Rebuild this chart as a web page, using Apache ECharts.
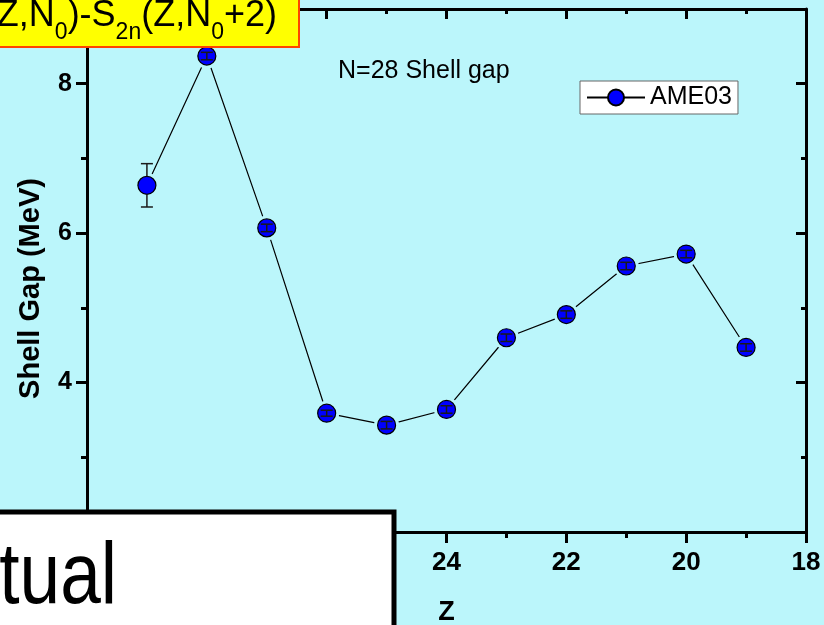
<!DOCTYPE html>
<html>
<head>
<meta charset="utf-8">
<script src="https://cdn.jsdelivr.net/npm/echarts@6/dist/echarts.min.js"></script>
<style>
html,body{margin:0;padding:0;background:#BBF6FB;}
#chart{width:824px;height:625px;}
</style>
</head>
<body>
<div id="chart"></div>
<script>
// ---- data ----
const protonNumbers = [29, 28, 27, 26, 25, 24, 23, 22, 21, 20, 19];
const shellGap = [6.64, 8.37, 6.07, 3.59, 3.43, 3.64, 4.60, 4.91, 5.56, 5.72, 4.47];
const shellGapError = [0.29, 0.05, 0.05, 0.04, 0.05, 0.05, 0.05, 0.05, 0.05, 0.05, 0.05];
const yMajorTicks = [2, 4, 6, 8];
const yMinorTicks = [3, 5, 7];
const seriesName = 'AME03';
const xTitle = 'Z';
const yTitle = 'Shell Gap (MeV)';
const noteText = 'N=28 Shell gap';
const boxText = 'Actual';

const BG = '#BBF6FB';
const FONT = 'Liberation Sans, Arial, sans-serif';

const points = protonNumbers.map((z, i) => [z, shellGap[i]]);
const errPoints = protonNumbers.map((z, i) => [z, shellGap[i], shellGapError[i]]);

const chart = echarts.init(document.getElementById('chart'), null, {renderer: 'canvas'});

const commonY = {type: 'value', min: 2, max: 9, splitLine: {show: false}};
const xCommon = {type: 'value', min: 18, max: 30, interval: 2, inverse: true, splitLine: {show: false}, minorSplitLine: {show: false}};

const option = {
  backgroundColor: BG,
  animation: false,
  grid: {left: 87, right: 18, top: 9, bottom: 93, outerBoundsMode: 'none'},
  legend: {
    data: [seriesName],
    left: 580, top: 81,
    backgroundColor: '#FFFFFF',
    borderColor: '#666666', borderWidth: 1, borderRadius: 0,
    padding: [4, 6, 4, 6],
    itemWidth: 58, itemHeight: 20,
    textStyle: {fontSize: 25, fontFamily: FONT, color: '#000'}
  },
  xAxis: [
    Object.assign({}, xCommon, {
      position: 'bottom',
      axisLine: {show: true, lineStyle: {color: '#000', width: 3}},
      axisTick: {show: true, inside: false, length: 11, lineStyle: {color: '#000', width: 3}},
      minorTick: {show: true, splitNumber: 2, length: 6, lineStyle: {color: '#000', width: 3}},
      axisLabel: {color: '#000', fontSize: 26, fontWeight: 'bold', fontFamily: FONT, margin: 18},
      name: xTitle, nameLocation: 'middle', nameGap: 67,
      nameTextStyle: {color: '#000', fontSize: 27, fontWeight: 'bold', fontFamily: FONT}
    }),
    Object.assign({}, xCommon, {
      position: 'top',
      axisLine: {show: true, lineStyle: {color: '#000', width: 3}},
      axisTick: {show: true, inside: true, length: 10, lineStyle: {color: '#000', width: 3}},
      minorTick: {show: true, splitNumber: 2, length: 5, lineStyle: {color: '#000', width: 3}},
      axisLabel: {show: false}
    })
  ],
  yAxis: [
    Object.assign({}, commonY, {
      position: 'left',
      axisLine: {show: true, lineStyle: {color: '#000', width: 3}},
      axisTick: {show: true, inside: false, length: 11, customValues: yMajorTicks, lineStyle: {color: '#000', width: 3}},
      axisLabel: {color: '#000', fontSize: 25, fontWeight: 'bold', fontFamily: FONT, margin: 15, customValues: yMajorTicks},
      name: yTitle, nameLocation: 'middle', nameGap: 42, nameRotate: 90,
      nameTextStyle: {color: '#000', fontSize: 29, fontWeight: 'bold', fontFamily: FONT, padding: [0, 36, 0, 0]}
    }),
    Object.assign({}, commonY, {
      position: 'left',
      axisLine: {show: false},
      axisTick: {show: true, inside: false, length: 6, customValues: yMinorTicks, lineStyle: {color: '#000', width: 3}},
      axisLabel: {show: false}
    }),
    Object.assign({}, commonY, {
      position: 'right',
      axisLine: {show: true, lineStyle: {color: '#000', width: 3}},
      axisTick: {show: true, inside: true, length: 10, customValues: yMajorTicks, lineStyle: {color: '#000', width: 3}},
      axisLabel: {show: false}
    }),
    Object.assign({}, commonY, {
      position: 'right',
      axisLine: {show: false},
      axisTick: {show: true, inside: true, length: 5, customValues: yMinorTicks, lineStyle: {color: '#000', width: 3}},
      axisLabel: {show: false}
    })
  ],
  series: [
    {
      name: seriesName, type: 'line', data: points, z: 2,
      symbol: 'circle', symbolSize: 17, showSymbol: true,
      itemStyle: {color: '#0000FF', borderColor: '#000', borderWidth: 1},
      lineStyle: {color: '#000', width: 1.2}
    },
    {
      name: 'mask', type: 'scatter', data: points, z: 3, silent: true,
      symbol: 'circle', symbolSize: 25,
      itemStyle: {color: BG, opacity: 1}
    },
    {
      name: 'markers', type: 'scatter', data: points, z: 4, silent: true,
      symbol: 'circle', symbolSize: 18,
      itemStyle: {color: '#0000FF', borderColor: '#000', borderWidth: 1.2, opacity: 1}
    },
    {
      name: 'errors', type: 'custom', data: errPoints, z: 5, silent: true,
      encode: {x: 0, y: 1},
      renderItem: function (params, api) {
        const x = api.value(0), y = api.value(1), e = api.value(2);
        const c = api.coord([x, y]);
        const t = api.coord([x, y + e]);
        const b = api.coord([x, y - e]);
        const r = 9, cap = 6;
        const st = {stroke: '#1a1a1a', lineWidth: 1.5};
        const ch = [];
        const ln = (x1, y1, x2, y2) => ch.push({type: 'line', shape: {x1, y1, x2, y2}, style: st});
        if (c[1] - t[1] > r) {
          ln(c[0], c[1] - r, c[0], t[1]);
          ln(c[0], c[1] + r, c[0], b[1]);
        } else {
          ln(c[0], t[1], c[0], b[1]);
        }
        ln(c[0] - cap, t[1], c[0] + cap, t[1]);
        ln(c[0] - cap, b[1], c[0] + cap, b[1]);
        return {type: 'group', children: ch};
      }
    }
  ],
  graphic: [
    {
      type: 'rect', z: 100,
      shape: {x: -20, y: -20, width: 319, height: 67},
      style: {fill: '#FFFF00', stroke: '#FF4500', lineWidth: 2}
    },
    {
      type: 'text', z: 101, x: 277, y: -12,
      style: {
        text: '{m|S}{s|2n}{m|(Z,N}{s|0}{m|)-S}{s|2n}{m|(Z,N}{s|0}{m|+2)}',
        align: 'right', textAlign: 'right', verticalAlign: 'top', textVerticalAlign: 'top',
        fill: '#000',
        rich: {
          m: {fontSize: 36, fontFamily: FONT, lineHeight: 56, verticalAlign: 'middle', color: '#000'},
          s: {fontSize: 23, fontFamily: FONT, lineHeight: 23, verticalAlign: 'bottom', color: '#000'}
        }
      }
    },
    {
      type: 'text', z: 100, x: 338, y: 59,
      style: {text: noteText, font: '25px ' + FONT, fill: '#000', align: 'left', textAlign: 'left', verticalAlign: 'top', textVerticalAlign: 'top'}
    },
    {
      type: 'rect', z: 100,
      shape: {x: -20, y: 512, width: 414, height: 140},
      style: {fill: '#FFFFFF', stroke: '#000', lineWidth: 5}
    },
    {
      type: 'text', z: 101, x: 117, y: 579, scaleX: 0.83,
      style: {text: boxText, font: '88px ' + FONT, fill: '#000', align: 'right', textAlign: 'right', verticalAlign: 'middle', textVerticalAlign: 'middle'}
    }
  ]
};
chart.setOption(option);
</script>
</body>
</html>
